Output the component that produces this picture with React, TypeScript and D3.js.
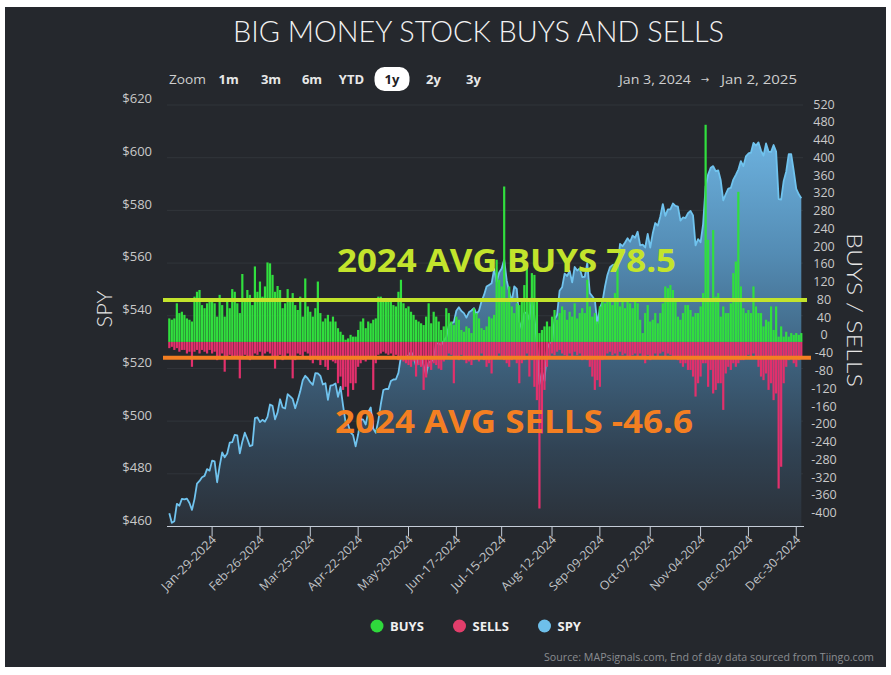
import React from "react";
import * as d3 from "d3";

const W = 891;
const H = 675;

// ---------- categories ----------
const START_DATE = "2024-01-03";
const END_DATE = "2025-01-02";
const HOLIDAYS = [
  "2024-01-15", "2024-02-19", "2024-03-29", "2024-05-27", "2024-06-19",
  "2024-07-04", "2024-09-02", "2024-11-28", "2024-12-25", "2025-01-01",
];
const X_TICKS = [
  "2024-01-29", "2024-02-26", "2024-03-25", "2024-04-22", "2024-05-20", "2024-06-17",
  "2024-07-15", "2024-08-12", "2024-09-09", "2024-10-07", "2024-11-04", "2024-12-02", "2024-12-30",
];

// ---------- series ----------
const BUYS = [
  53, 50, 53, 87, 65, 68, 61, 53, 50, 46,
  102, 113, 117, 83, 76, 87, 98, 95, 87, 57,
  106, 83, 57, 95, 76, 119, 113, 87, 65, 153,
  95, 117, 106, 83, 170, 113, 136, 102, 125, 179,
  177, 151, 113, 126, 117, 76, 87, 119, 91, 110,
  83, 72, 102, 57, 143, 80, 68, 57, 76, 136,
  65, 46, 53, 61, 46, 57, 46, 31, 23, 16,
  5, 8, 16, 12, 12, 27, 46, 53, 31, 46,
  42, 50, 53, 102, 102, 98, 95, 98, 91, 83,
  80, 113, 140, 87, 76, 80, 68, 61, 50, 46,
  42, 38, 57, 87, 42, 68, 57, 46, 27, 35,
  76, 65, 46, 38, 57, 50, 27, 23, 35, 31,
  20, 76, 65, 53, 31, 27, 35, 57, 53, 61,
  185, 140, 125, 350, 95, 125, 80, 65, 87, 83,
  95, 128, 170, 95, 155, 151, 95, 20, 27, 35,
  46, 35, 57, 72, 50, 65, 80, 72, 50, 68,
  57, 87, 53, 65, 76, 65, 140, 80, 57, 65,
  46, 80, 95, 87, 95, 95, 83, 110, 185, 80,
  95, 76, 95, 87, 76, 95, 87, 50, 20, 65,
  83, 46, 50, 65, 42, 65, 87, 125, 121, 128,
  117, 95, 57, 50, 65, 83, 83, 72, 57, 65,
  65, 80, 110, 489, 230, 95, 252, 102, 110, 57,
  80, 65, 65, 87, 155, 181, 338, 125, 76, 65,
  72, 65, 125, 80, 65, 65, 35, 50, 46, 80,
  27, 80, 12, 35, 12, 23, 12, 20, 16, 20,
  16, 20,
];

const SELLS = [
  -14, -11, -18, -14, -22, -18, -18, -26, -22, -56,
  -22, -18, -26, -18, -22, -26, -18, -26, -22, -41,
  -33, -26, -67, -33, -29, -33, -37, -33, -82, -33,
  -29, -37, -41, -33, -26, -29, -22, -33, -26, -22,
  -26, -33, -60, -33, -29, -41, -33, -26, -37, -82,
  -41, -26, -29, -33, -22, -26, -41, -48, -33, -41,
  -52, -41, -56, -63, -41, -44, -48, -93, -78, -108,
  -101, -123, -93, -108, -93, -56, -48, -41, -44, -33,
  -33, -108, -48, -29, -26, -22, -26, -29, -26, -33,
  -29, -41, -33, -44, -48, -52, -56, -44, -78, -52,
  -56, -108, -80, -56, -63, -48, -52, -60, -63, -44,
  -33, -26, -29, -93, -33, -41, -29, -41, -48, -44,
  -52, -41, -33, -44, -26, -41, -56, -48, -71, -33,
  -37, -26, -33, -41, -48, -56, -41, -33, -48, -93,
  -48, -41, -26, -78, -41, -101, -131, -375, -206, -108,
  -56, -33, -26, -30, -22, -18, -26, -30, -33, -26,
  -37, -22, -30, -26, -41, -33, -41, -56, -78, -108,
  -86, -101, -41, -33, -26, -22, -30, -26, -33, -22,
  -30, -26, -33, -37, -30, -26, -33, -26, -33, -48,
  -29, -41, -33, -26, -37, -26, -22, -33, -26, -29,
  -33, -37, -41, -48, -56, -48, -63, -63, -78, -123,
  -93, -78, -48, -48, -101, -63, -116, -108, -93, -93,
  -153, -71, -56, -63, -48, -56, -48, -41, -41, -33,
  -29, -33, -26, -33, -56, -78, -86, -71, -108, -93,
  -131, -116, -330, -281, -93, -56, -41, -33, -48, -56,
  -41, -33,
];

const SPY = [
  465.0, 461.4, 462.0, 468.6, 467.9, 470.5, 470.3, 470.6, 468.9, 466.3,
  470.4, 476.3, 477.3, 478.7, 479.2, 481.8, 481.2, 485.0, 484.7, 476.8,
  483.0, 488.1, 486.3, 487.7, 491.8, 492.0, 494.8, 494.6, 487.8, 492.2,
  495.6, 493.2, 490.5, 490.9, 501.1, 501.4, 499.6, 500.5, 499.8, 501.6,
  506.3, 505.8, 500.7, 503.3, 508.3, 505.2, 504.8, 510.2, 509.4, 508.4,
  504.9, 507.9, 511.3, 515.5, 517.2, 516.2, 514.8, 513.8, 518.2, 518.1,
  517.2, 513.9, 514.4, 508.1, 513.5, 513.7, 514.3, 509.2, 513.0, 506.0,
  499.6, 498.7, 495.7, 494.7, 490.4, 494.9, 500.8, 500.6, 498.7, 503.4,
  505.2, 497.2, 495.6, 500.2, 506.4, 511.8, 512.2, 512.2, 515.2, 515.8,
  515.9, 518.3, 524.7, 523.6, 524.4, 525.0, 526.3, 524.8, 520.9, 524.4,
  524.7, 521.1, 517.6, 522.3, 522.7, 523.3, 529.5, 529.5, 528.9, 530.5,
  531.8, 536.2, 537.2, 537.6, 541.9, 543.2, 541.8, 541.0, 539.3, 541.3,
  542.0, 542.9, 540.7, 541.9, 545.5, 547.9, 551.1, 551.7, 552.3, 557.7,
  552.9, 556.4, 557.9, 561.3, 553.4, 549.1, 545.5, 551.1, 550.2, 537.8,
  535.0, 541.0, 541.3, 538.5, 547.3, 539.5, 529.5, 514.1, 518.8, 515.3,
  527.3, 529.6, 529.9, 538.6, 540.3, 549.5, 550.8, 556.0, 555.1, 557.0,
  552.7, 558.5, 557.2, 558.0, 554.7, 554.8, 560.1, 548.6, 547.4, 546.1,
  536.9, 542.9, 545.3, 550.9, 555.5, 558.4, 559.2, 559.5, 557.8, 567.3,
  566.4, 567.8, 569.4, 568.1, 570.4, 569.6, 571.9, 566.7, 567.0, 565.9,
  571.1, 565.9, 571.3, 575.2, 574.2, 577.7, 582.4, 577.9, 580.4, 580.4,
  582.6, 581.7, 581.4, 576.1, 577.3, 577.1, 578.9, 579.8, 578.1, 566.7,
  569.1, 567.9, 574.8, 589.1, 593.6, 596.2, 596.8, 594.9, 595.2, 591.4,
  583.8, 586.2, 588.3, 588.5, 591.7, 593.5, 595.5, 598.7, 596.8, 600.5,
  601.6, 601.9, 605.6, 604.6, 605.8, 602.7, 600.8, 605.4, 602.3, 602.2,
  604.8, 602.3, 584.3, 584.1, 591.2, 594.7, 601.3, 601.3, 595.0, 588.2,
  586.1, 584.6,
];

const SPY_TICKS = [460, 480, 500, 520, 540, 560, 580, 600, 620];
const FLOW_TICKS = [
  520, 480, 440, 400, 360, 320, 280, 240, 200, 160, 120, 80, 40, 0,
  -40, -80, -120, -160, -200, -240, -280, -320, -360, -400,
];
const AVG_BUYS = 78.5;
const AVG_SELLS = -46.6;
const ZOOM_BUTTONS = ["1m", "3m", "6m", "YTD", "1y", "2y", "3y"];
const SELECTED_BUTTON = "1y";
const LEGEND_ITEMS = ["BUYS", "SELLS", "SPY"];

// ---------- styles ----------
const BG = "#25282d";
const GREEN = "#31df3e";
const PINK = "#e2306c";
const BLUE = "#70c3ee";
const YELLOW = "#c3e42c";
const ORANGE = "#f47f22";
const LEGEND_COLORS: Record<string, string> = { BUYS: "#2fd93c", SELLS: "#e23e6b", SPY: "#6ebfea" };
const SANS = "'Open Sans', 'DejaVu Sans', sans-serif";
const LIGHT = "Lato, 'Open Sans', sans-serif";
const LABEL_OFFSET = 7; // axis labels sit this far above their tick

const PLOT = { left: 167, right: 803, top: 105, bottom: 526.5 };

function buildDays(): string[] {
  const parse = d3.utcParse("%Y-%m-%d");
  const fmt = d3.utcFormat("%Y-%m-%d");
  const hol = new Set(HOLIDAYS);
  const s = parse(START_DATE) as Date;
  const e = parse(END_DATE) as Date;
  return d3.utcDay
    .range(s, d3.utcDay.offset(e, 1))
    .filter((d) => d.getUTCDay() !== 0 && d.getUTCDay() !== 6 && !hol.has(fmt(d)))
    .map(fmt);
}

export default function App() {
  const days = buildDays();
  const n = Math.min(days.length, SPY.length, BUYS.length, SELLS.length);
  const dom = days.slice(0, n);

  const x = d3.scalePoint<string>().domain(dom).range([169.3, 801.3]);
  const ySpy = d3.scaleLinear().domain([460, 620]).range([PLOT.bottom, PLOT.top]);
  const yFlow = d3.scaleLinear().domain([-400, 520]).range([519.6, 111]);

  const area = d3
    .area<number>()
    .x((_, i) => x(dom[i]) as number)
    .y0(PLOT.bottom)
    .y1((d) => ySpy(d));
  const line = d3
    .line<number>()
    .x((_, i) => x(dom[i]) as number)
    .y((d) => ySpy(d));

  const spyVals = SPY.slice(0, n);
  const bw = 2.2;
  const z = yFlow(0);
  const parse = d3.utcParse("%Y-%m-%d");
  const labelFmt = d3.utcFormat("%b-%d-%Y");

  const btnX: Record<string, number> = { "1m": 228.7, "3m": 271, "6m": 312, YTD: 351.5, "1y": 392, "2y": 433.5, "3y": 473.5 };
  const legendX: Record<string, number> = { BUYS: 377, SELLS: 459.5, SPY: 544.5 };

  return (
    <div style={{ position: "fixed", left: 0, top: 0, width: W, height: H }}>
      <svg width={W} height={H} viewBox={`0 0 ${W} ${H}`} style={{ display: "block", background: "#ffffff" }}>
        <defs>
          <linearGradient id="spyFill" gradientUnits="userSpaceOnUse" x1="0" y1="140" x2="0" y2={PLOT.bottom}>
            <stop offset="0" stopColor="#6cb1de" />
            <stop offset="0.3" stopColor="#538bb3" />
            <stop offset="0.55" stopColor="#3f6481" />
            <stop offset="0.8" stopColor="#314354" />
            <stop offset="1" stopColor="#2b3139" />
          </linearGradient>
        </defs>
        <rect x={5} y={7} width={881} height={660} fill={BG} />

        {/* Title */}
        <text x={478.5} y={41.5} textAnchor="middle" fontFamily={LIGHT} fontWeight={300} fontSize={29}
          fill="#f2f2f2" textLength={491} lengthAdjust="spacingAndGlyphs">BIG MONEY STOCK BUYS AND SELLS</text>

        {/* Range selector */}
        <text x={169} y={83.5} fontFamily={SANS} fontSize={13} fill="#cfcfcf" textLength={37} lengthAdjust="spacingAndGlyphs">Zoom</text>
        {ZOOM_BUTTONS.map((b) => (
          <g key={b}>
            {b === SELECTED_BUTTON && (
              <rect x={btnX[b] - 17.5} y={67} width={35} height={24} rx={10} fill="#ffffff" />
            )}
            <text x={btnX[b]} y={83.5} textAnchor="middle" fontFamily={SANS} fontWeight={700} fontSize={13}
              fill={b === SELECTED_BUTTON ? "#1e2024" : "#e8e8e8"}>{b}</text>
          </g>
        ))}
        <text x={619} y={83.5} fontFamily={SANS} fontSize={13} fill="#cfcfcf" textLength={72} lengthAdjust="spacingAndGlyphs">Jan 3, 2024</text>
        <text x={705} y={83} textAnchor="middle" fontFamily={SANS} fontSize={10} fill="#cfcfcf">→</text>
        <text x={797} y={83.5} textAnchor="end" fontFamily={SANS} fontSize={13} fill="#cfcfcf" textLength={76} lengthAdjust="spacingAndGlyphs">Jan 2, 2025</text>

        {/* Gridlines */}
        {SPY_TICKS.filter((t) => t !== 460).map((t) => (
          <line key={t} x1={PLOT.left} x2={PLOT.right} y1={ySpy(t)} y2={ySpy(t)} stroke="#31353b" strokeWidth={1} />
        ))}

        {/* SPY area + line */}
        <path d={area(spyVals) || ""} fill="url(#spyFill)" />
        <path d={line(spyVals) || ""} fill="none" stroke={BLUE} strokeWidth={1.8} strokeLinejoin="round" />

        {/* Buys / Sells bars */}
        {dom.map((d, i) => {
          const cx = x(d) as number;
          const b = BUYS[i];
          const s = SELLS[i];
          return (
            <g key={d}>
              <rect x={cx - bw / 2} y={yFlow(b)} width={bw} height={Math.max(0, z - yFlow(b))} fill={GREEN} />
              <rect x={cx - bw / 2} y={z} width={bw} height={Math.max(0, yFlow(s) - z)} fill={PINK} />
            </g>
          );
        })}

        {/* X axis */}
        <line x1={PLOT.left} x2={PLOT.right + 1} y1={PLOT.bottom} y2={PLOT.bottom} stroke="#c5cdd8" strokeWidth={1} />
        {X_TICKS.map((t) => {
          const tx = x(t);
          if (tx === undefined) return null;
          return (
            <g key={t}>
              <line x1={tx} x2={tx} y1={PLOT.bottom} y2={PLOT.bottom + 10} stroke="#c5cdd8" strokeWidth={1} />
              <text transform={`translate(${tx + 2},${PLOT.bottom + 11}) rotate(-45)`} textAnchor="end"
                fontFamily={SANS} fontSize={12} fill="#c0c3c7" dy="0.35em" textLength={72}
                lengthAdjust="spacingAndGlyphs">{labelFmt(parse(t) as Date)}</text>
            </g>
          );
        })}

        {/* Left axis */}
        {SPY_TICKS.map((t) => (
          <text key={t} x={152} y={ySpy(t) - LABEL_OFFSET + 0.4} textAnchor="end" dominantBaseline="central"
            fontFamily={SANS} fontSize={13} fill="#c9c9c9">{`$${t}`}</text>
        ))}
        <text transform={`translate(103,309) rotate(-90)`} textAnchor="middle" dominantBaseline="central"
          fontFamily={LIGHT} fontWeight={300} fontSize={22} fill="#e6e6e6" textLength={37} lengthAdjust="spacingAndGlyphs">SPY</text>

        {/* Right axis */}
        {FLOW_TICKS.map((t) => (
          <text key={t} x={824} y={yFlow(t) - LABEL_OFFSET} textAnchor="middle" dominantBaseline="central"
            fontFamily={SANS} fontSize={12.5} fill="#c9c9c9">{t}</text>
        ))}
        <text transform={`translate(855,310) rotate(90)`} textAnchor="middle" dominantBaseline="central"
          fontFamily={LIGHT} fontWeight={300} fontSize={22} fill="#e6e6e6" textLength={154} lengthAdjust="spacingAndGlyphs">BUYS / SELLS</text>

        {/* Average annotations (aligned with the right-axis label positions) */}
        <line x1={163} x2={807} y1={yFlow(AVG_BUYS) - LABEL_OFFSET} y2={yFlow(AVG_BUYS) - LABEL_OFFSET} stroke={YELLOW} strokeWidth={4} />
        <line x1={163} x2={811} y1={yFlow(AVG_SELLS) - LABEL_OFFSET + 2} y2={yFlow(AVG_SELLS) - LABEL_OFFSET + 2} stroke={ORANGE} strokeWidth={4} />
        <text x={337} y={271.5} fontFamily={SANS} fontWeight={700} fontSize={33} fill={YELLOW}
          textLength={339} lengthAdjust="spacingAndGlyphs">{`2024 AVG BUYS ${AVG_BUYS}`}</text>
        <text x={335} y={433} fontFamily={SANS} fontWeight={700} fontSize={33} fill={ORANGE}
          textLength={358} lengthAdjust="spacingAndGlyphs">{`2024 AVG SELLS ${AVG_SELLS}`}</text>

        {/* Legend */}
        {LEGEND_ITEMS.map((k) => (
          <g key={k}>
            <circle cx={legendX[k]} cy={626} r={6.5} fill={LEGEND_COLORS[k]} />
            <text x={legendX[k] + 13} y={631} fontFamily={SANS} fontWeight={700} fontSize={13} fill="#f0f0f0">{k}</text>
          </g>
        ))}

        {/* Source */}
        <text x={874} y={661} textAnchor="end" fontFamily={SANS} fontSize={10} fill="#8a8d91"
          textLength={330} lengthAdjust="spacingAndGlyphs">Source: MAPsignals.com, End of day data sourced from Tiingo.com</text>
      </svg>
    </div>
  );
}
